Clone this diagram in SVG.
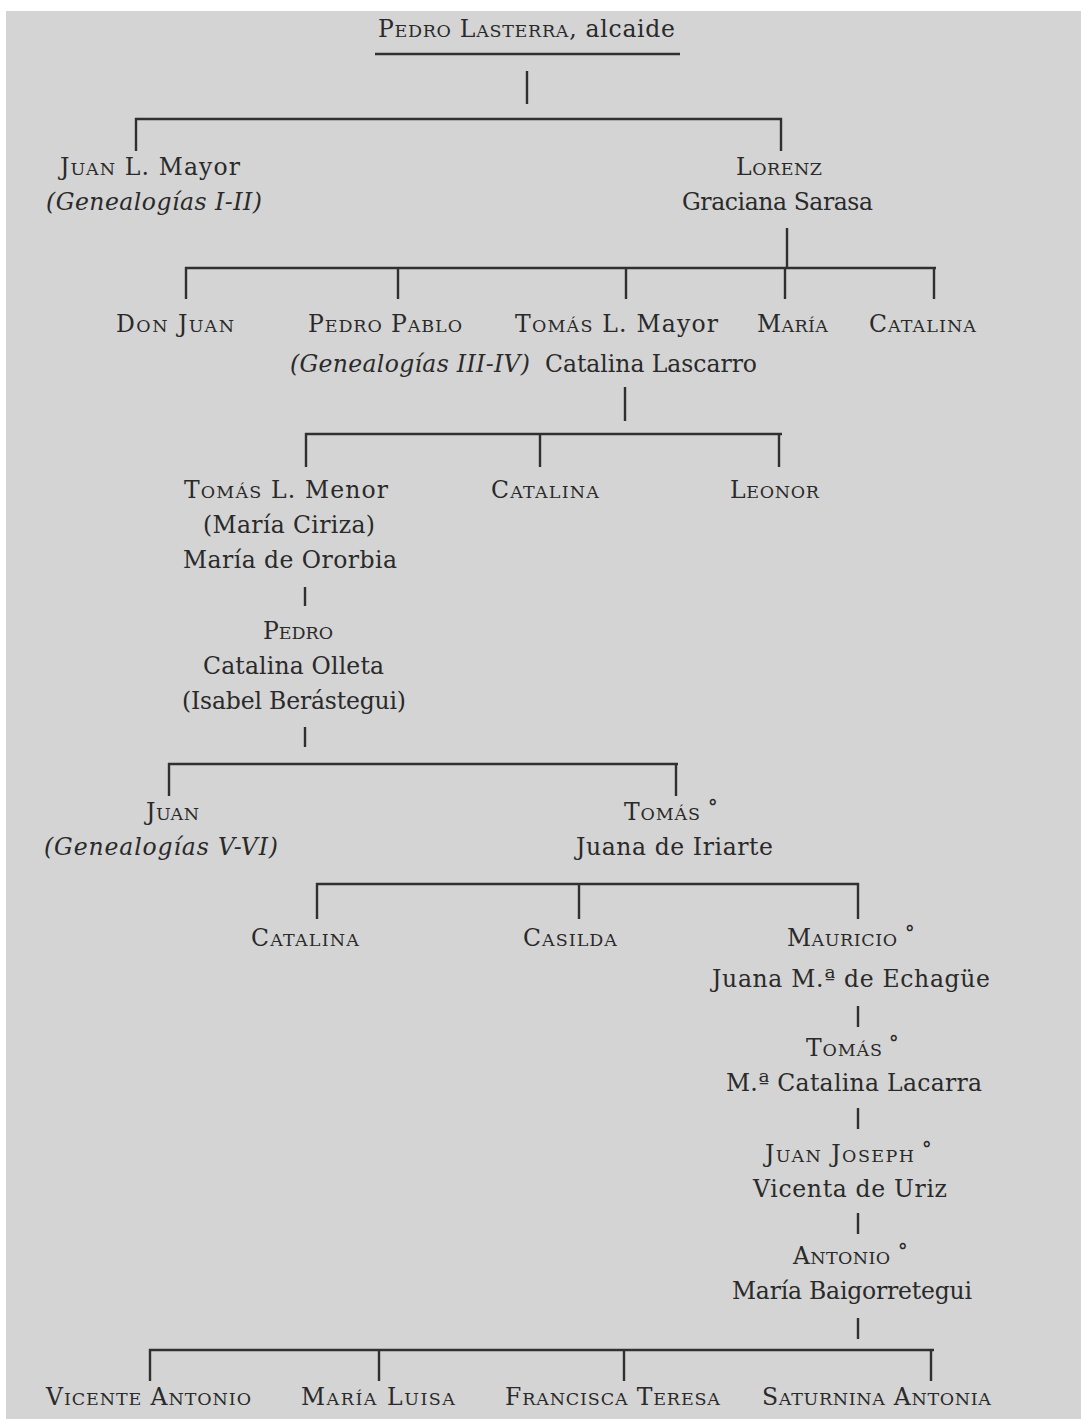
<svg xmlns="http://www.w3.org/2000/svg" width="1081" height="1419" viewBox="0 0 1081 1419">
<style>
.t{font-family:"DejaVu Serif","Liberation Serif",serif;font-size:23.5px;fill:#2a2a2a}
.i{font-style:italic}
.sc{font-size:17.5px}
.deg{font-size:19px;font-weight:bold}
.c line{stroke:#303030;stroke-width:2.4;stroke-linecap:butt}
</style>
<rect x="0" y="0" width="1081" height="1419" fill="#ffffff"/>
<rect x="6" y="11" width="1075" height="1408" fill="#d4d4d4"/>
<g class="c" id="connectors">
<line x1="375" y1="54" x2="680" y2="54"/>
<line x1="527" y1="71" x2="527" y2="104"/>
<line x1="135" y1="119" x2="782" y2="119"/>
<line x1="136" y1="118" x2="136" y2="151"/>
<line x1="781" y1="118" x2="781" y2="151"/>
<line x1="787" y1="228" x2="787" y2="268"/>
<line x1="185" y1="268" x2="936" y2="268"/>
<line x1="186" y1="267" x2="186" y2="299"/>
<line x1="398" y1="267" x2="398" y2="299"/>
<line x1="626" y1="267" x2="626" y2="299"/>
<line x1="785" y1="267" x2="785" y2="299"/>
<line x1="934" y1="267" x2="934" y2="299"/>
<line x1="625" y1="387" x2="625" y2="421"/>
<line x1="305" y1="434" x2="782" y2="434"/>
<line x1="306" y1="433" x2="306" y2="467"/>
<line x1="540" y1="433" x2="540" y2="467"/>
<line x1="779" y1="433" x2="779" y2="467"/>
<line x1="305" y1="587" x2="305" y2="606"/>
<line x1="305" y1="727" x2="305" y2="747"/>
<line x1="168" y1="764" x2="678" y2="764"/>
<line x1="169" y1="763" x2="169" y2="796"/>
<line x1="676" y1="763" x2="676" y2="796"/>
<line x1="316" y1="884" x2="859" y2="884"/>
<line x1="317" y1="883" x2="317" y2="919"/>
<line x1="579" y1="883" x2="579" y2="919"/>
<line x1="858" y1="883" x2="858" y2="919"/>
<line x1="858" y1="1006" x2="858" y2="1027"/>
<line x1="858" y1="1108" x2="858" y2="1129"/>
<line x1="858" y1="1213" x2="858" y2="1234"/>
<line x1="858" y1="1318" x2="858" y2="1339"/>
<line x1="149" y1="1350" x2="934" y2="1350"/>
<line x1="150" y1="1349" x2="150" y2="1381"/>
<line x1="379" y1="1349" x2="379" y2="1381"/>
<line x1="624" y1="1349" x2="624" y2="1381"/>
<line x1="931" y1="1349" x2="931" y2="1381"/>
</g>
<g id="n-pedro-lasterra"><text class="t" x="378" y="37" textLength="297" lengthAdjust="spacing">P<tspan class="sc">EDRO</tspan> L<tspan class="sc">ASTERRA</tspan>, alcaide</text></g>
<g id="n-juan-mayor">
<text class="t" x="60" y="175" textLength="180" lengthAdjust="spacing">J<tspan class="sc">UAN</tspan> L. Mayor</text>
<text class="t i" x="46" y="210" textLength="216" lengthAdjust="spacing">(Genealogías I-II)</text>
</g>
<g id="n-lorenz">
<text class="t" x="736" y="175" textLength="86" lengthAdjust="spacing">L<tspan class="sc">ORENZ</tspan></text>
<text class="t" x="682" y="210" textLength="191" lengthAdjust="spacing">Graciana Sarasa</text>
</g>
<g id="n-don-juan"><text class="t" x="116" y="332" textLength="118" lengthAdjust="spacing">D<tspan class="sc">ON</tspan> J<tspan class="sc">UAN</tspan></text></g>
<g id="n-pedro-pablo">
<text class="t" x="308" y="332" textLength="154" lengthAdjust="spacing">P<tspan class="sc">EDRO</tspan> P<tspan class="sc">ABLO</tspan></text>
<text class="t i" x="290" y="372" textLength="240" lengthAdjust="spacing">(Genealogías III-IV)</text>
</g>
<g id="n-tomas-mayor">
<text class="t" x="515" y="332" textLength="203" lengthAdjust="spacing">T<tspan class="sc">OMÁS</tspan> L. Mayor</text>
<text class="t" x="545" y="372" textLength="212" lengthAdjust="spacing">Catalina Lascarro</text>
</g>
<g id="n-maria-1"><text class="t" x="757" y="332" textLength="71" lengthAdjust="spacing">M<tspan class="sc">ARÍA</tspan></text></g>
<g id="n-catalina-1"><text class="t" x="869" y="332" textLength="107" lengthAdjust="spacing">C<tspan class="sc">ATALINA</tspan></text></g>
<g id="n-tomas-menor">
<text class="t" x="184" y="498" textLength="204" lengthAdjust="spacing">T<tspan class="sc">OMÁS</tspan> L. Menor</text>
<text class="t" x="203" y="533" textLength="172" lengthAdjust="spacing">(María Ciriza)</text>
<text class="t" x="183" y="568" textLength="214" lengthAdjust="spacing">María de Ororbia</text>
</g>
<g id="n-catalina-2"><text class="t" x="491" y="498" textLength="108" lengthAdjust="spacing">C<tspan class="sc">ATALINA</tspan></text></g>
<g id="n-leonor"><text class="t" x="730" y="498" textLength="89" lengthAdjust="spacing">L<tspan class="sc">EONOR</tspan></text></g>
<g id="n-pedro">
<text class="t" x="263" y="639" textLength="70" lengthAdjust="spacing">P<tspan class="sc">EDRO</tspan></text>
<text class="t" x="203" y="674" textLength="181" lengthAdjust="spacing">Catalina Olleta</text>
<text class="t" x="182" y="709" textLength="224" lengthAdjust="spacing">(Isabel Berástegui)</text>
</g>
<g id="n-juan">
<text class="t" x="146" y="820" textLength="53" lengthAdjust="spacing">J<tspan class="sc">UAN</tspan></text>
<text class="t i" x="44" y="855" textLength="234" lengthAdjust="spacing">(Genealogías V-VI)</text>
</g>
<g id="n-tomas-1">
<text class="t" x="624" y="820" textLength="76" lengthAdjust="spacing">T<tspan class="sc">OMÁS</tspan></text>
<text class="t deg" x="708" y="813">°</text>
<text class="t" x="576" y="855" textLength="197" lengthAdjust="spacing">Juana de Iriarte</text>
</g>
<g id="n-catalina-3"><text class="t" x="251" y="946" textLength="108" lengthAdjust="spacing">C<tspan class="sc">ATALINA</tspan></text></g>
<g id="n-casilda"><text class="t" x="523" y="946" textLength="94" lengthAdjust="spacing">C<tspan class="sc">ASILDA</tspan></text></g>
<g id="n-mauricio">
<text class="t" x="787" y="946" textLength="110" lengthAdjust="spacing">M<tspan class="sc">AURICIO</tspan></text>
<text class="t deg" x="905" y="939">°</text>
<text class="t" x="712" y="987" textLength="278" lengthAdjust="spacing">Juana M.ª de Echagüe</text>
</g>
<g id="n-tomas-2">
<text class="t" x="806" y="1056" textLength="76" lengthAdjust="spacing">T<tspan class="sc">OMÁS</tspan></text>
<text class="t deg" x="889" y="1049">°</text>
<text class="t" x="726" y="1091" textLength="256" lengthAdjust="spacing">M.ª Catalina Lacarra</text>
</g>
<g id="n-juan-joseph">
<text class="t" x="765" y="1162" textLength="149" lengthAdjust="spacing">J<tspan class="sc">UAN</tspan> J<tspan class="sc">OSEPH</tspan></text>
<text class="t deg" x="922" y="1155">°</text>
<text class="t" x="753" y="1197" textLength="194" lengthAdjust="spacing">Vicenta de Uriz</text>
</g>
<g id="n-antonio">
<text class="t" x="793" y="1264" textLength="97" lengthAdjust="spacing">A<tspan class="sc">NTONIO</tspan></text>
<text class="t deg" x="898" y="1257">°</text>
<text class="t" x="732" y="1299" textLength="240" lengthAdjust="spacing">María Baigorretegui</text>
</g>
<g id="n-vicente-antonio"><text class="t" x="46" y="1405" textLength="205" lengthAdjust="spacing">V<tspan class="sc">ICENTE</tspan> A<tspan class="sc">NTONIO</tspan></text></g>
<g id="n-maria-luisa"><text class="t" x="301" y="1405" textLength="154" lengthAdjust="spacing">M<tspan class="sc">ARÍA</tspan> L<tspan class="sc">UISA</tspan></text></g>
<g id="n-francisca-teresa"><text class="t" x="505" y="1405" textLength="215" lengthAdjust="spacing">F<tspan class="sc">RANCISCA</tspan> T<tspan class="sc">ERESA</tspan></text></g>
<g id="n-saturnina-antonia"><text class="t" x="762" y="1405" textLength="229" lengthAdjust="spacing">S<tspan class="sc">ATURNINA</tspan> A<tspan class="sc">NTONIA</tspan></text></g>
</svg>
